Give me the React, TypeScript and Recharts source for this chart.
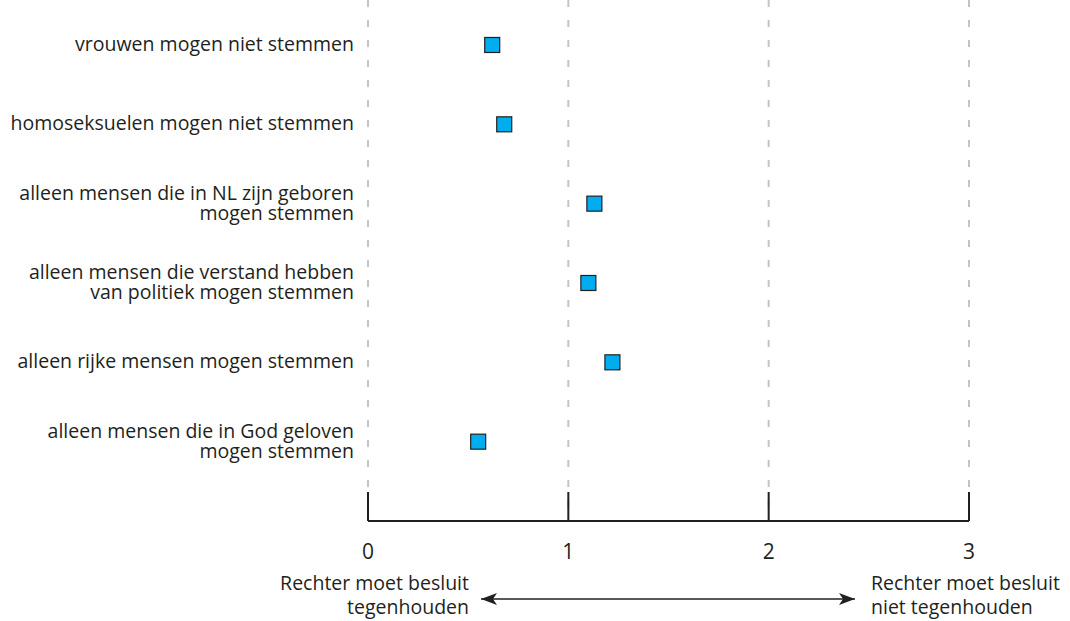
import { ScatterChart, Scatter, XAxis, YAxis, CartesianGrid } from "recharts";

const statements = [
  ["vrouwen mogen niet stemmen"],
  ["homoseksuelen mogen niet stemmen"],
  ["alleen mensen die in NL zijn geboren", "mogen stemmen"],
  ["alleen mensen die verstand hebben", "van politiek mogen stemmen"],
  ["alleen rijke mensen mogen stemmen"],
  ["alleen mensen die in God geloven", "mogen stemmen"],
];
const scores = [0.62, 0.68, 1.13, 1.1, 1.22, 0.55];
const xTicks = [0, 1, 2, 3];
const rowTicks = [0, 1, 2, 3, 4, 5];

const data = scores.map((score, i) => ({ score, row: i }));

const FONT = "'Open Sans', sans-serif";
const INK = "#231f20";

function StatementTick(props: any) {
  const { x, y, payload } = props;
  const lines = statements[payload.value] || [];
  const lh = 20;
  const start = y - ((lines.length - 1) * lh) / 2;
  return (
    <g>
      {lines.map((l, i) => (
        <text
          key={i}
          x={x}
          y={start + i * lh + 6}
          textAnchor="end"
          fill={INK}
          fontSize={19.5}
          fontFamily={FONT}
        >
          {l}
        </text>
      ))}
    </g>
  );
}

function ScoreTick(props: any) {
  const { x, y, payload } = props;
  return (
    <g>
      <line x1={x} x2={x} y1={y - 29} y2={y} stroke={INK} strokeWidth={2} />
      <text x={x} y={y + 38} textAnchor="middle" fill={INK} fontSize={21} fontFamily={FONT}>
        {payload.value}
      </text>
    </g>
  );
}

function Square(props: any) {
  const { cx, cy } = props;
  return <rect x={cx - 7.5} y={cy - 7.5} width={15} height={15} fill="#00aeef" stroke={INK} strokeWidth={1.2} />;
}

function App() {
  return (
    <div style={{ position: "absolute", left: 0, top: 0, width: 1070, height: 621, background: "#fff" }}>
      <ScatterChart width={1070} height={621} margin={{ top: 0, right: 101, bottom: 0, left: 0 }}>
        <CartesianGrid horizontal={false} stroke="#c4c4c4" strokeWidth={2} strokeDasharray="7 13" />
        <XAxis
          type="number"
          dataKey="score"
          domain={[0, 3]}
          ticks={xTicks}
          height={100}
          axisLine={{ stroke: INK, strokeWidth: 2 }}
          tickLine={false}
          tickSize={0}
          tickMargin={0}
          tick={<ScoreTick />}
        />
        <YAxis
          type="number"
          dataKey="row"
          domain={[-0.567, 6]}
          ticks={rowTicks}
          reversed
          width={368}
          axisLine={false}
          tickLine={false}
          tickSize={0}
          tickMargin={14}
          tick={<StatementTick />}
          interval={0}
        />
        <Scatter data={data} shape={<Square />} isAnimationActive={false} />
      </ScatterChart>
      <svg width={1070} height={621} style={{ position: "absolute", left: 0, top: 0, pointerEvents: "none" }}>
        <defs>
          <marker id="ah" viewBox="0 0 16 12" refX="16" refY="6" markerWidth="16" markerHeight="12" orient="auto-start-reverse" markerUnits="userSpaceOnUse">
            <path d="M0,0 L16,6 L0,12 L4,6 Z" fill={INK} />
          </marker>
        </defs>
        <line x1={481} x2={855} y1={599} y2={599} stroke={INK} strokeWidth={1.6} markerStart="url(#ah)" markerEnd="url(#ah)" />
        <text x={469} y={590} textAnchor="end" fill={INK} fontSize={19.5} fontFamily={FONT}>
          Rechter moet besluit
        </text>
        <text x={469} y={614} textAnchor="end" fill={INK} fontSize={19.5} fontFamily={FONT}>
          tegenhouden
        </text>
        <text x={871} y={590} textAnchor="start" fill={INK} fontSize={19.5} fontFamily={FONT}>
          Rechter moet besluit
        </text>
        <text x={871} y={614} textAnchor="start" fill={INK} fontSize={19.5} fontFamily={FONT}>
          niet tegenhouden
        </text>
      </svg>
    </div>
  );
}

export default App;
